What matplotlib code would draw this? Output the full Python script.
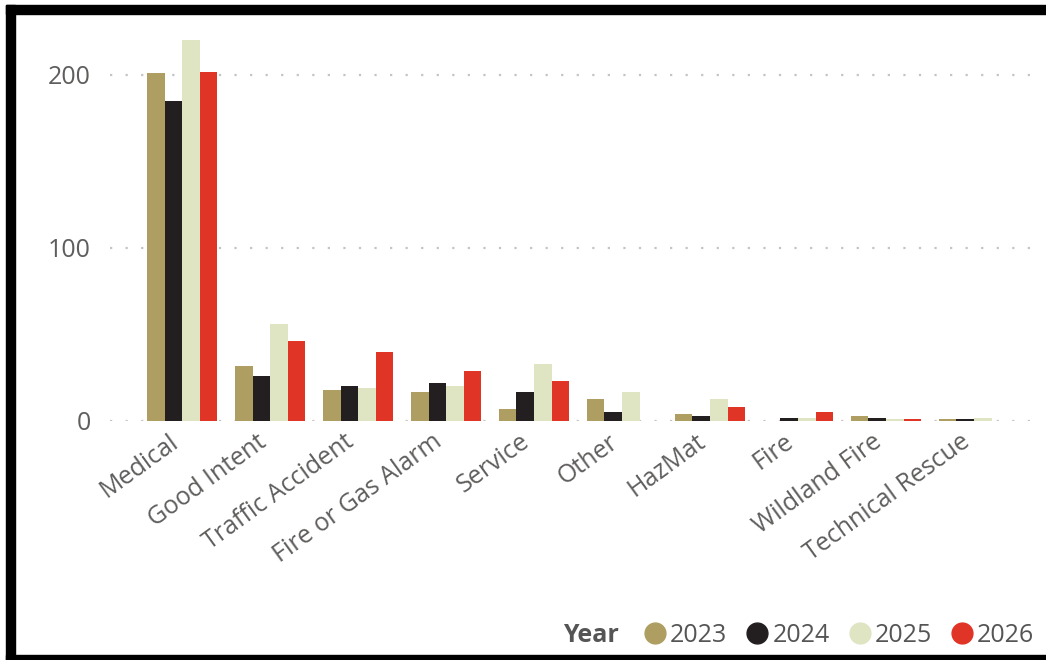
import matplotlib
matplotlib.use('Agg')
import matplotlib.pyplot as plt
import matplotlib.transforms as mtransforms
import numpy as np
from matplotlib.lines import Line2D
from matplotlib.patches import Rectangle

categories = ["Medical", "Good Intent", "Traffic Accident", "Fire or Gas Alarm",
              "Service", "Other", "HazMat", "Fire", "Wildland Fire", "Technical Rescue"]
years = ["2023", "2024", "2025", "2026"]
y2023 = [201, 32, 18, 17, 7, 13, 4, 0, 3, 1]
y2024 = [185, 26, 20, 22, 17, 5, 3, 2, 2, 1]
y2025 = [220, 56, 19, 20, 33, 17, 13, 2, 1, 2]
y2026 = [202, 46, 40, 29, 23, 0, 8, 5, 1, 0]
colors = ["#ae9e62", "#231f20", "#dfe5c3", "#e03427"]

plt.rcParams['font.family'] = ['Open Sans', 'DejaVu Sans']

W, H = 1046, 660
fig = plt.figure(figsize=(W / 100, H / 100), dpi=100)
ax = fig.add_axes([110 / W, (H - 421) / H, 930 / W, 391 / H])

x = np.arange(len(categories))
bw = 0.2
for i, (vals, c) in enumerate(zip([y2023, y2024, y2025, y2026], colors)):
    ax.bar(x + (i - 1.5) * bw, vals, width=bw, color=c, label=years[i])

ax.set_xlim(-0.82, 9.75)
ax.set_ylim(0, 226)
ax.set_yticks([0, 100, 200])
ax.grid(axis='y', color='#c4c4c4', linestyle=(0, (1, 6)), linewidth=1.6)
ax.set_axisbelow(True)
for s in ax.spines.values():
    s.set_visible(False)
ax.tick_params(length=0, labelsize=18, labelcolor='#605e5c')
ax.tick_params(axis='y', pad=14)
ax.set_xticks(x)
ax.set_xticklabels(categories, rotation=36, ha='right', rotation_mode='anchor')
ax.tick_params(axis='x', pad=6, labelsize=18)
shift = mtransforms.ScaledTranslation(-14 / 100, 0, fig.dpi_scale_trans)
for lab in ax.get_xticklabels():
    lab.set_transform(lab.get_transform() + shift)

# legend
handles = [Line2D([], [], marker='o', linestyle='none', markersize=15,
                  markerfacecolor=c, markeredgecolor=c) for c in colors]
fig.legend(handles, years, loc='center right', bbox_to_anchor=(1034 / W, (H - 635) / H),
           ncol=4, frameon=False, fontsize=18, handletextpad=0.1,
           columnspacing=0.7, handlelength=1.0, labelcolor='#555555',
           borderpad=0, borderaxespad=0)
fig.text(563 / W, (H - 635) / H, "Year", fontsize=18, fontweight='bold',
         color='#555555', va='center')

# black frame around the picture
for (x0, y0, w, h) in [(6, 0, 9, 655), (6, 646, 1040, 9), (6, 0, 1040, 5)]:
    fig.patches.append(Rectangle((x0 / W, y0 / H), w / W, h / H,
                                 transform=fig.transFigure, color='black', zorder=10))

fig.savefig("out.png", dpi=100)
